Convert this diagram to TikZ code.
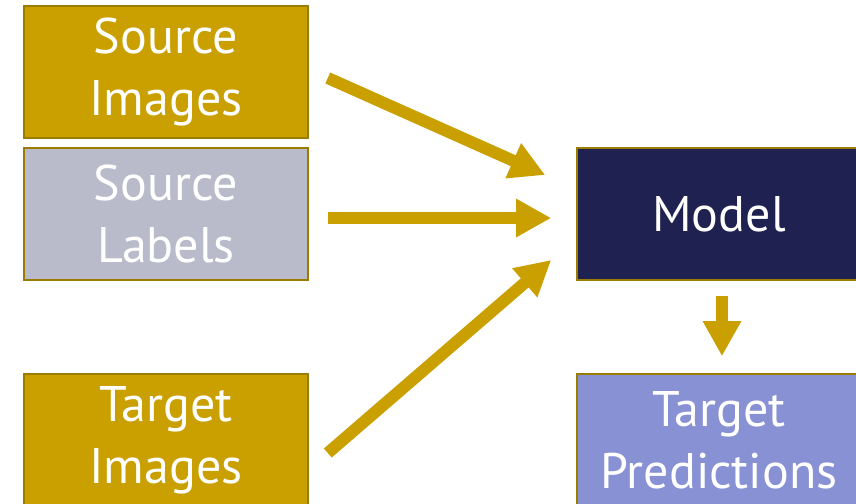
\documentclass[tikz,border=0pt]{standalone}
\usepackage{fontspec}
\setmainfont{PT Sans}
\usetikzlibrary{arrows.meta}
\definecolor{gold}{HTML}{C9A000}
\definecolor{goldline}{HTML}{9A7C00}
\definecolor{slate}{HTML}{B9BBCA}
\definecolor{navy}{HTML}{1F2150}
\definecolor{lavender}{HTML}{8891D3}
\tikzset{
  box/.style={draw=goldline, line width=1.6pt, minimum width=284pt, minimum height=132pt,
    inner sep=0pt, align=center, text=white, font=\fontsize{50}{62}\selectfont},
  flow/.style={draw=gold, line width=12pt,
    -{Triangle[length=35pt,width=36pt]}}
}
\begin{document}
\begin{tikzpicture}[x=1pt,y=1pt]
  \useasboundingbox (0,0) rectangle (856,-503);
  % inputs on the left
  \node[box, fill=gold]  (srcimg) at (166,-72)  {Source\\Images};
  \node[box, fill=slate] (srclab) at (166,-214) {Source\\Labels};
  \node[box, fill=gold]  (tgtimg) at (166,-440) {Target\\Images};
  % model and its output on the right
  \node[box, fill=navy]     (model) at (719,-214) {Model};
  \node[box, fill=lavender] (pred)  at (719,-440) {Target\\Predictions};
  % data flow
  \draw[flow] ([shift={(19,-6)}]srcimg.east) -- ([shift={(-31,39)}]model.west);
  \draw[flow] ([shift={(19,-4)}]srclab.east) -- ([shift={(-25,-4)}]model.west);
  \draw[flow] ([shift={(19,-13)}]tgtimg.east) -- ([shift={(-25,-46)}]model.west);
  \draw[flow] ([shift={(3,-15)}]model.south) -- ([shift={(3,17)}]pred.north);
\end{tikzpicture}
\end{document}
